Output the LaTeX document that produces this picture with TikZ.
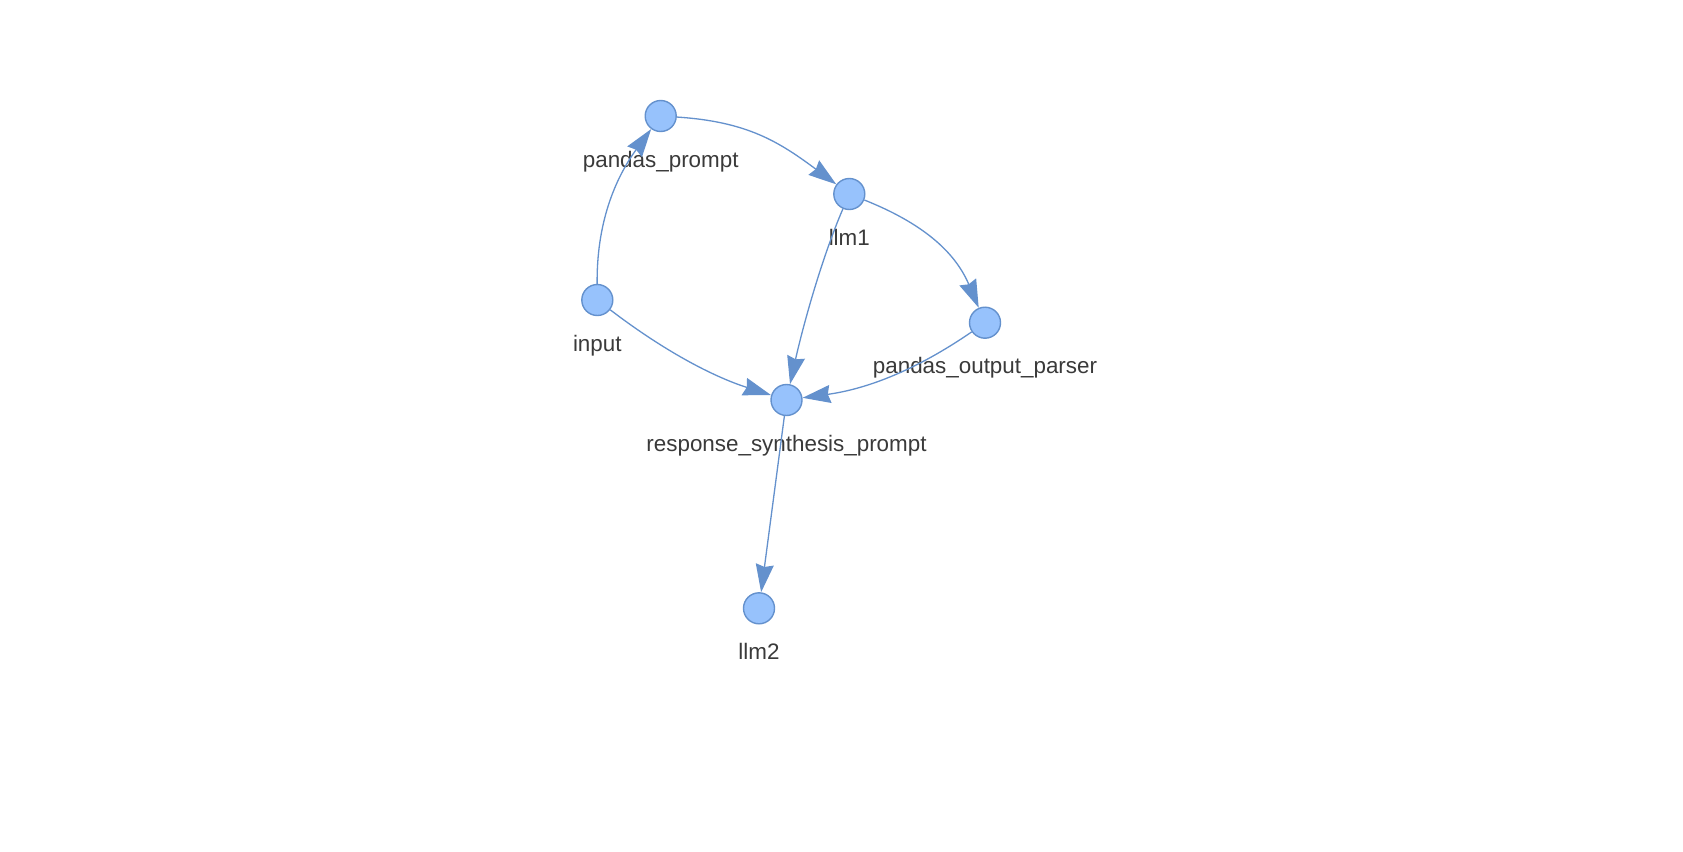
\documentclass[tikz,border=0pt]{standalone}
\usepackage{fontspec}
\setmainfont{Liberation Sans}
\usetikzlibrary{arrows.meta}
\definecolor{nodefill}{HTML}{97C2FC}
\definecolor{edgeblue}{HTML}{6491CD}
\definecolor{labelgray}{HTML}{3A3A3A}
\begin{document}
\begin{tikzpicture}[x=1pt,y=-1pt,
  gnode/.style={circle,draw=edgeblue,fill=nodefill,line width=1.4pt,minimum size=31pt,inner sep=0pt},
  lbl/.style={anchor=base,text=labelgray,font=\fontsize{22.4}{27}\selectfont,inner sep=0pt},
  edge/.style={draw=edgeblue,line width=1.3pt,-{Stealth[length=28pt,width=18pt,inset=2.5pt]}}]
\useasboundingbox (0,0) rectangle (1683,851);
\fill[white] (0,0) rectangle (1683,851);
% nodes
\node[gnode] (pp) at (660.7,116) {};
\node[gnode] (llm1) at (849.3,194) {};
\node[gnode] (input) at (597.3,300) {};
\node[gnode] (pop) at (985,322.7) {};
\node[gnode] (rsp) at (786.5,400) {};
\node[gnode] (llm2) at (759,608.3) {};
% labels
\node[lbl] (lpp) at (660.7,167) {pandas\_prompt};
\node[lbl] (lllm1) at (849.3,245) {llm1};
\node[lbl] (linput) at (597.3,351) {input};
\node[lbl] (lpop) at (985,373.7) {pandas\_output\_parser};
\node[lbl] (lrsp) at (786.5,451) {response\_synthesis\_prompt};
\node[lbl] (lllm2) at (759,659.3) {llm2};
% edges
\draw[edge] (input) .. controls (596.5,225) and (614,180) .. (pp);
\draw[edge] (pp) .. controls (747,121.6) and (778.6,141.5) .. (llm1);
\draw[edge] (llm1) .. controls (921.2,222.7) and (954.6,250.8) .. (pop);
\draw[edge] (llm1) .. controls (820.9,260) and (802.2,329.3) .. (rsp);
\draw[edge] (input) .. controls (674.7,358.9) and (722.7,379.75) .. (rsp);
\draw[edge] (pop) .. controls (916.7,369.75) and (867.5,388.9) .. (rsp);
\draw[edge] (rsp) -- (llm2);
\end{tikzpicture}
\end{document}
